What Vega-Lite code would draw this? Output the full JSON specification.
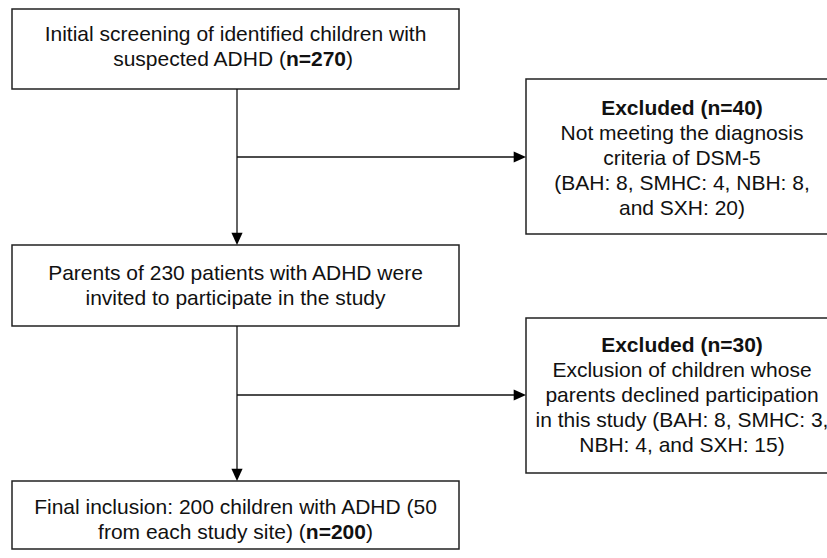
{
  "$schema": "https://vega.github.io/schema/vega-lite/v6.json",
  "width": 827,
  "height": 558,
  "padding": 0,
  "autosize": {"type": "fit", "contains": "padding"},
  "background": "white",
  "config": {"view": {"stroke": null}, "text": {"font": "Liberation Sans", "fontSize": 21, "baseline": "alphabetic", "color": "#111"}},
  "datasets": {
    "boxes": [
      {"id": "screen", "x1": 12, "x2": 459, "y1": 9, "y2": 89},
      {"id": "excl40", "x1": 526, "x2": 838, "y1": 79, "y2": 234},
      {"id": "parents", "x1": 12, "x2": 459, "y1": 245, "y2": 326},
      {"id": "excl30", "x1": 526, "x2": 838, "y1": 318, "y2": 473},
      {"id": "final", "x1": 12, "x2": 459, "y1": 481, "y2": 549}
    ],
    "links": [
      {"x1": 237, "y1": 89, "x2": 237, "y2": 240},
      {"x1": 237, "y1": 326, "x2": 237, "y2": 476},
      {"x1": 237, "y1": 157, "x2": 521, "y2": 157},
      {"x1": 237, "y1": 395, "x2": 521, "y2": 395}
    ],
    "heads": [
      {"x": 237, "y": 245, "dir": "down"},
      {"x": 237, "y": 481, "dir": "down"},
      {"x": 526, "y": 157, "dir": "right"},
      {"x": 526, "y": 395, "dir": "right"}
    ],
    "labels": [
      {"x": 235.5, "y": 41, "t": "Initial screening of identified children with", "k": "c"},
      {"x": 285.9, "y": 66, "t": "suspected ADHD (", "k": "r"},
      {"x": 285.9, "y": 66, "t": "n=270", "k": "lb"},
      {"x": 346, "y": 66, "t": ")", "k": "l"},
      {"x": 682, "y": 115, "t": "Excluded (n=40)", "k": "cb"},
      {"x": 682, "y": 140, "t": "Not meeting the diagnosis", "k": "c"},
      {"x": 682, "y": 165, "t": "criteria of DSM-5", "k": "c"},
      {"x": 682, "y": 190, "t": "(BAH: 8, SMHC: 4, NBH: 8,", "k": "c"},
      {"x": 682, "y": 215, "t": "and SXH: 20)", "k": "c"},
      {"x": 235.5, "y": 280, "t": "Parents of 230 patients with ADHD were", "k": "c"},
      {"x": 235.5, "y": 305, "t": "invited to participate in the study", "k": "c"},
      {"x": 682, "y": 352, "t": "Excluded (n=30)", "k": "cb"},
      {"x": 682, "y": 377, "t": "Exclusion of children whose", "k": "c"},
      {"x": 682, "y": 402, "t": "parents declined participation", "k": "c"},
      {"x": 682, "y": 427, "t": "in this study (BAH: 8, SMHC: 3,", "k": "c"},
      {"x": 682, "y": 452, "t": "NBH: 4, and SXH: 15)", "k": "c"},
      {"x": 235.5, "y": 514, "t": "Final inclusion: 200 children with ADHD (50", "k": "c"},
      {"x": 305.8, "y": 539, "t": "from each study site) (", "k": "r"},
      {"x": 305.8, "y": 539, "t": "n=200", "k": "lb"},
      {"x": 365.9, "y": 539, "t": ")", "k": "l"}
    ]
  },
  "encoding": {},
  "layer": [
    {
      "data": {"name": "boxes"},
      "mark": {"type": "rect", "fill": "white", "stroke": "#222", "strokeWidth": 1.5, "clip": true},
      "encoding": {
        "x": {"field": "x1", "type": "quantitative", "scale": {"domain": [0, 827], "nice": false, "zero": false}, "axis": null},
        "x2": {"field": "x2"},
        "y": {"field": "y1", "type": "quantitative", "scale": {"domain": [0, 558], "nice": false, "zero": false, "reverse": true}, "axis": null},
        "y2": {"field": "y2"}
      }
    },
    {
      "data": {"name": "links"},
      "mark": {"type": "rule", "color": "#111", "strokeWidth": 1.3},
      "encoding": {
        "x": {"field": "x1", "type": "quantitative"},
        "x2": {"field": "x2"},
        "y": {"field": "y1", "type": "quantitative"},
        "y2": {"field": "y2"}
      }
    },
    {
      "data": {"name": "heads"},
      "transform": [{"filter": "datum.dir == 'down'"}],
      "mark": {"type": "point", "shape": "M -0.5 -1.1 L 0.5 -1.1 L 0 0 Z", "filled": true, "color": "#000", "size": 500, "opacity": 1},
      "encoding": {
        "x": {"field": "x", "type": "quantitative"},
        "y": {"field": "y", "type": "quantitative"}
      }
    },
    {
      "data": {"name": "heads"},
      "transform": [{"filter": "datum.dir == 'right'"}],
      "mark": {"type": "point", "shape": "M -1.1 -0.5 L -1.1 0.5 L 0 0 Z", "filled": true, "color": "#000", "size": 500, "opacity": 1},
      "encoding": {
        "x": {"field": "x", "type": "quantitative"},
        "y": {"field": "y", "type": "quantitative"}
      }
    },
    {
      "data": {"name": "labels"},
      "transform": [{"filter": "datum.k == 'c'"}],
      "mark": {"type": "text", "align": "center", "clip": true},
      "encoding": {
        "x": {"field": "x", "type": "quantitative"},
        "y": {"field": "y", "type": "quantitative"},
        "text": {"field": "t"}
      }
    },
    {
      "data": {"name": "labels"},
      "transform": [{"filter": "datum.k == 'cb'"}],
      "mark": {"type": "text", "align": "center", "fontWeight": "bold", "clip": true},
      "encoding": {
        "x": {"field": "x", "type": "quantitative"},
        "y": {"field": "y", "type": "quantitative"},
        "text": {"field": "t"}
      }
    },
    {
      "data": {"name": "labels"},
      "transform": [{"filter": "datum.k == 'r'"}],
      "mark": {"type": "text", "align": "right", "clip": true},
      "encoding": {
        "x": {"field": "x", "type": "quantitative"},
        "y": {"field": "y", "type": "quantitative"},
        "text": {"field": "t"}
      }
    },
    {
      "data": {"name": "labels"},
      "transform": [{"filter": "datum.k == 'lb'"}],
      "mark": {"type": "text", "align": "left", "fontWeight": "bold", "clip": true},
      "encoding": {
        "x": {"field": "x", "type": "quantitative"},
        "y": {"field": "y", "type": "quantitative"},
        "text": {"field": "t"}
      }
    },
    {
      "data": {"name": "labels"},
      "transform": [{"filter": "datum.k == 'l'"}],
      "mark": {"type": "text", "align": "left", "clip": true},
      "encoding": {
        "x": {"field": "x", "type": "quantitative"},
        "y": {"field": "y", "type": "quantitative"},
        "text": {"field": "t"}
      }
    }
  ]
}
